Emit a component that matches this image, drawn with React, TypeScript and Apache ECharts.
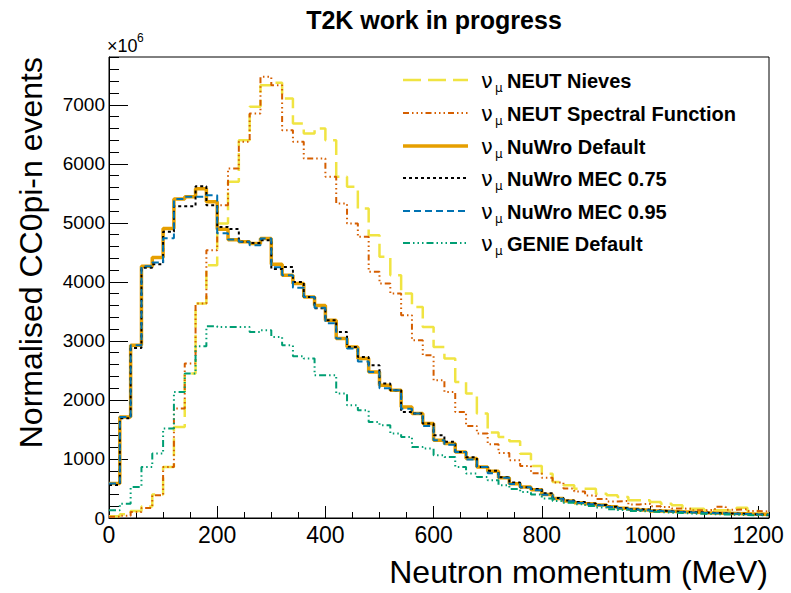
import React, { useEffect, useRef } from 'react';
import * as echarts from 'echarts';

// Histogram binning (MeV)
const BIN_WIDTH = 20;
const X_MAX = 1220;
const Y_MAX = 7810;

// Bin contents (x10^6), 61 bins of 20 MeV from 0 to 1220 MeV
const neutNieves = [
  29, 63, 119, 195, 400, 864, 1543, 2447, 3633, 4283,
  4990, 5695, 6401, 6966, 7331, 7373, 7108, 6684, 6514, 6599,
  6401, 5780, 5610, 5244, 4792, 4424, 4114, 3803, 3576, 3237,
  2898, 2702, 2305, 2108, 1769, 1450, 1373, 1300, 1090, 880,
  751, 610, 554, 497, 497, 412, 384, 356, 300, 300,
  271, 243, 215, 158, 158, 130, 130, 125, 175, 119,
  73,
];
const neutSpectral = [
  20, 40, 100, 170, 384, 864, 1853, 2616, 3633, 4537,
  5300, 5921, 6373, 6854, 7475, 7331, 6571, 6373, 6090, 6090,
  5780, 5328, 4990, 4763, 4170, 3973, 3803, 3435, 3012, 2757,
  2333, 2136, 1797, 1560, 1430, 1250, 1100, 980, 880, 760,
  680, 600, 500, 450, 380, 320, 280, 290, 230, 240,
  200, 185, 160, 155, 130, 140, 190, 140, 150, 120,
  110,
];
const nuwroDefault = [
  583, 1712, 2927, 4266, 4413, 4905, 5405, 5441, 5580, 5356,
  4890, 4712, 4678, 4650, 4736, 4300, 4114, 3973, 3746, 3600,
  3351, 3040, 2898, 2702, 2475, 2249, 2164, 1881, 1769, 1600,
  1317, 1261, 1119, 1006, 864, 790, 680, 582, 525, 480,
  400, 330, 290, 260, 240, 220, 190, 165, 150, 135,
  120, 115, 105, 100, 90, 85, 80, 75, 70, 65,
  60,
];
const nuwroMec075 = [
  560, 1690, 2880, 4240, 4299, 4848, 5283, 5283, 5622, 5300,
  4932, 4898, 4678, 4660, 4707, 4220, 4254, 4000, 3746, 3554,
  3351, 3153, 2898, 2729, 2588, 2278, 2164, 1797, 1769, 1600,
  1402, 1290, 1119, 1030, 864, 800, 690, 600, 520, 490,
  420, 340, 295, 270, 245, 220, 190, 170, 150, 140,
  125, 115, 105, 100, 95, 85, 80, 75, 70, 60,
  55,
];
const nuwroMec095 = [
  583, 1712, 2927, 4266, 4330, 4740, 5405, 5441, 5441, 5469,
  4825, 4718, 4678, 4620, 4736, 4250, 4114, 3900, 3746, 3560,
  3300, 3040, 2870, 2650, 2475, 2200, 2164, 1850, 1769, 1560,
  1317, 1240, 1119, 990, 864, 760, 680, 575, 520, 470,
  395, 325, 285, 255, 235, 215, 185, 160, 145, 130,
  118, 110, 100, 95, 88, 82, 78, 72, 68, 62,
  58,
];
const genieDefault = [
  130, 243, 525, 864, 1091, 1515, 2136, 2447, 2910, 3249,
  3237, 3237, 3237, 3153, 3181, 3068, 2927, 2740, 2702, 2419,
  2419, 2108, 1910, 1825, 1627, 1571, 1431, 1373, 1203, 1176,
  1063, 1034, 864, 753, 695, 639, 554, 490, 440, 400,
  330, 290, 260, 235, 205, 180, 150, 135, 120, 110,
  100, 90, 85, 75, 70, 65, 60, 55, 50, 45,
  45,
];

const SERIES_NAMES = [
  'NEUT Nieves',
  'NEUT Spectral Function',
  'NuWro Default',
  'NuWro MEC 0.75',
  'NuWro MEC 0.95',
  'GENIE Default',
];
const SERIES_VALUES = [neutNieves, neutSpectral, nuwroDefault, nuwroMec075, nuwroMec095, genieDefault];

const TITLE = 'T2K work in progress';
const X_TITLE = 'Neutron momentum (MeV)';
const Y_TITLE = 'Normalised CC0pi-n events';

const STYLES: { color: string; width: number; dash: any }[] = [
  { color: '#F0E442', width: 2.5, dash: [18, 7] },
  { color: '#D55E00', width: 2, dash: [6, 3, 1.5, 3, 1.5, 3, 1.5, 3] },
  { color: '#E69F00', width: 3.5, dash: 'solid' },
  { color: '#000000', width: 2, dash: [3, 3] },
  { color: '#0072B2', width: 2, dash: [7, 4] },
  { color: '#009E73', width: 2, dash: [7, 3, 1.5, 3, 1.5, 3, 1.5, 3] },
];

const SANS = '"Liberation Sans", Arial, Helvetica, sans-serif';

function histData(vals: number[]) {
  const pts: number[][] = vals.map((v, i) => [i * BIN_WIDTH, v]);
  pts.push([vals.length * BIN_WIDTH, vals[vals.length - 1]]);
  return pts;
}

function txt(x: number, y: number, text: string, o: any = {}) {
  const align = o.align || 'left';
  const va = o.va || 'middle';
  return {
    type: 'text',
    x,
    y,
    rotation: o.rotation || 0,
    z: 100,
    style: {
      text,
      fill: '#000',
      fontSize: o.size || 16,
      fontFamily: o.family || SANS,
      fontWeight: o.weight || 'normal',
      align,
      textAlign: align,
      verticalAlign: va,
      textVerticalAlign: va,
    },
  };
}

const plain = (v: number) => String(Math.round(v));

export default function App() {
  const ref = useRef<HTMLDivElement>(null);

  useEffect(() => {
    if (!ref.current) return;
    const chart = echarts.init(ref.current, undefined, { renderer: 'svg' });

    const gridLeft = 109;
    const gridTop = 57;
    const gridW = 660;
    const gridH = 461;

    const legendRowsY = [80, 113, 146, 178, 211, 243];
    const graphic: any[] = [];
    SERIES_NAMES.forEach((name, i) => {
      const s = STYLES[i];
      const y = legendRowsY[i];
      graphic.push({
        type: 'line',
        z: 100,
        shape: { x1: 403, y1: y, x2: 468, y2: y },
        style: {
          stroke: s.color,
          lineWidth: s.width,
          lineDash: s.dash === 'solid' ? null : s.dash,
        },
      });
      graphic.push(txt(481, y + 1, 'ν', { size: 21, family: '"DejaVu Sans", sans-serif' }));
      graphic.push(txt(495, y + 8, 'μ', { size: 12, family: '"DejaVu Sans", sans-serif' }));
      graphic.push(txt(507, y + 1, name, { size: 20, weight: 'bold' }));
    });

    graphic.push(txt(434, 20, TITLE, { size: 25, weight: 'bold', align: 'center' }));
    graphic.push(txt(107, 46, '×10', { size: 18 }));
    graphic.push(txt(137, 38, '6', { size: 12 }));
    graphic.push(txt(768, 572, X_TITLE, { size: 32, align: 'right' }));
    graphic.push(txt(31, 57, Y_TITLE, { size: 32, align: 'right', rotation: Math.PI / 2 }));

    const series = SERIES_VALUES.map((vals, i) => ({
      name: SERIES_NAMES[i],
      type: 'line',
      step: 'end',
      xAxisIndex: 0,
      yAxisIndex: 0,
      data: histData(vals),
      symbol: 'none',
      z: 2 + i,
      lineStyle: {
        color: STYLES[i].color,
        width: STYLES[i].width,
        type: STYLES[i].dash,
      },
      itemStyle: { color: STYLES[i].color },
    }));

    chart.setOption({
      animation: false,
      backgroundColor: '#ffffff',
      grid: {
        left: gridLeft,
        top: gridTop,
        width: gridW,
        height: gridH,
        show: true,
        borderColor: '#000',
        borderWidth: 1,
        backgroundColor: 'transparent',
      },
      xAxis: [
        {
          type: 'value',
          min: 0,
          max: X_MAX,
          interval: 200,
          position: 'bottom',
          axisLine: { show: true, onZero: false, lineStyle: { color: '#000', width: 1 } },
          axisTick: { show: true, inside: true, length: 12, lineStyle: { color: '#000' } },
          axisLabel: { show: true, showMaxLabel: false, color: '#000', fontSize: 23, fontFamily: SANS, margin: 5, formatter: plain },
          splitLine: { show: false },
        },
        {
          type: 'value',
          min: 0,
          max: X_MAX,
          interval: 50,
          position: 'bottom',
          axisLine: { show: false, onZero: false },
          axisTick: { show: true, inside: true, length: 6, lineStyle: { color: '#000' } },
          axisLabel: { show: false },
          splitLine: { show: false },
        },
      ],
      yAxis: [
        {
          type: 'value',
          min: 0,
          max: Y_MAX,
          interval: 1000,
          position: 'left',
          axisLine: { show: true, onZero: false, lineStyle: { color: '#000', width: 1 } },
          axisTick: { show: true, inside: true, length: 19, lineStyle: { color: '#000' } },
          axisLabel: { show: true, showMaxLabel: false, color: '#000', fontSize: 19, fontFamily: SANS, margin: 4, formatter: plain },
          splitLine: { show: false },
        },
        {
          type: 'value',
          min: 0,
          max: Y_MAX,
          interval: 200,
          position: 'left',
          axisLine: { show: false, onZero: false },
          axisTick: { show: true, inside: true, length: 10, lineStyle: { color: '#000' } },
          axisLabel: { show: false },
          splitLine: { show: false },
        },
      ],
      series,
      graphic,
    });

    return () => {
      chart.dispose();
    };
  }, []);

  return (
    <div
      ref={ref}
      style={{ position: 'fixed', left: 0, top: 0, width: 791, height: 593, background: '#fff' }}
    />
  );
}
